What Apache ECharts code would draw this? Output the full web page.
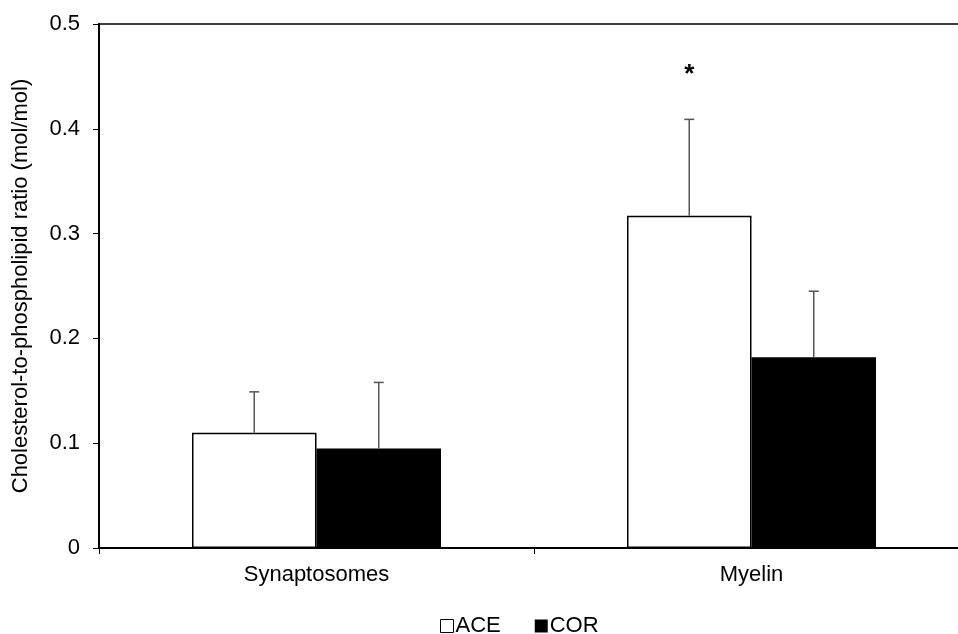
<!DOCTYPE html>
<html>
<head>
<meta charset="utf-8">
<script src="https://cdn.jsdelivr.net/npm/echarts@6/dist/echarts.min.js"></script>
<style>html,body{margin:0;padding:0;background:#fff;}#c{width:958px;height:634px;}</style>
</head>
<body>
<div id="c"></div>
<script>
const categories = ['Synaptosomes', 'Myelin'];
const seriesNames = ['ACE', 'COR'];
const aceValues = [0.110, 0.317];
const corValues = [0.095, 0.182];
const aceErrors = [0.039, 0.092];
const corErrors = [0.063, 0.063];
const aceMarks = ['', '*'];
const corMarks = ['', ''];
const yTickLabels = ['0', '0.1', '0.2', '0.3', '0.4', '0.5'];

const FONT = 'Liberation Sans, Arial, sans-serif';
const FS = 22;
const BAR_W = 124.5;

function errorSeries(name, values, errors, marks, side) {
  return {
    type: 'custom',
    name: name + ' error',
    z: 5,
    silent: true,
    data: values.map((v, i) => [i, v, v + errors[i], marks[i]]),
    renderItem: function (params, api) {
      const i = api.value(0);
      const base = api.coord([i, api.value(1)]);
      const top = api.coord([i, api.value(2)]);
      const x = base[0] + side * BAR_W / 2;
      const children = [
        { type: 'line', shape: { x1: x, y1: base[1], x2: x, y2: top[1] }, style: { stroke: '#555', lineWidth: 1.5 } },
        { type: 'line', shape: { x1: x - 5, y1: top[1], x2: x + 5, y2: top[1] }, style: { stroke: '#555', lineWidth: 1.5 } }
      ];
      const mark = marks[i];
      if (mark) {
        children.push({ type: 'text', style: { text: mark, x: x, y: top[1] - 45, align: 'center', verticalAlign: 'middle', font: 'bold 26px ' + FONT, fill: '#000' } });
      }
      return { type: 'group', children: children };
    }
  };
}

const chart = echarts.init(document.getElementById('c'), null, { renderer: 'canvas' });
chart.setOption({
  animation: false,
  backgroundColor: '#fff',
  grid: { left: 99, top: 24, width: 870, height: 524, outerBoundsMode: 'none', containLabel: false,
    show: true, borderColor: '#000', borderWidth: 1.5, backgroundColor: 'transparent' },
  legend: {
    top: 610, left: 435,
    data: [
      { name: 'ACE', itemStyle: { color: '#fff', borderColor: '#000', borderWidth: 1 } },
      { name: 'COR', itemStyle: { color: '#000' } }
    ],
    itemWidth: 13, itemHeight: 13, itemGap: 34,
    icon: 'rect',
    textStyle: { fontFamily: FONT, fontSize: FS, color: '#000', padding: [0, 0, 0, -3] }
  },
  xAxis: {
    type: 'category', data: categories,
    axisLine: { lineStyle: { color: '#000', width: 2 } },
    axisTick: { show: true, length: 6, lineStyle: { color: '#000', width: 1 } },
    axisLabel: { fontFamily: FONT, fontSize: FS, color: '#000', margin: 16 },
    splitLine: { show: false }
  },
  yAxis: {
    type: 'value', min: 0, max: 0.5, interval: 0.1,
    name: 'Cholesterol-to-phospholipid ratio (mol/mol)',
    nameLocation: 'middle', nameGap: 67,
    nameTextStyle: { fontFamily: FONT, fontSize: FS, color: '#000' },
    axisLine: { show: true, lineStyle: { color: '#000', width: 2 } },
    axisTick: { show: true, length: 6, lineStyle: { color: '#000', width: 1 } },
    axisLabel: { fontFamily: FONT, fontSize: FS, color: '#000', margin: 19,
      formatter: function (v) { return yTickLabels[Math.round(v * 10)]; } },
    splitLine: { show: false }
  },
  series: [
    { type: 'bar', name: seriesNames[0], data: aceValues, barWidth: BAR_W, barGap: '0%',
      itemStyle: { color: '#fff', borderColor: '#000', borderWidth: 1.5 } },
    { type: 'bar', name: seriesNames[1], data: corValues, barWidth: BAR_W, barGap: '0%',
      itemStyle: { color: '#000', borderColor: '#000', borderWidth: 0 } },
    errorSeries(seriesNames[0], aceValues, aceErrors, aceMarks, -1),
    errorSeries(seriesNames[1], corValues, corErrors, corMarks, 1)
  ]
});
</script>
</body>
</html>
